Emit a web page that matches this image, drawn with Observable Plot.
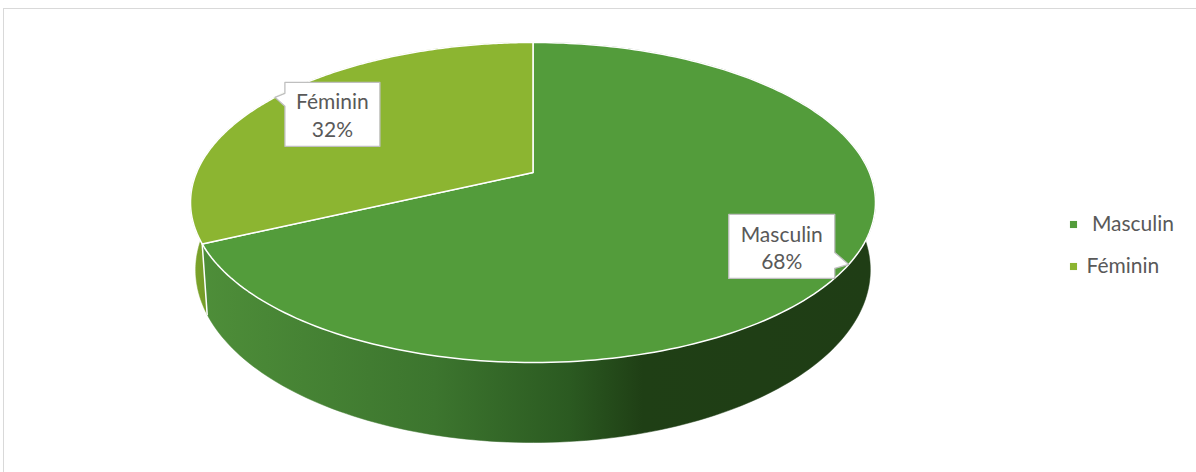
<!DOCTYPE html>
<html><head><meta charset="utf-8">
<script src="https://cdn.jsdelivr.net/npm/d3@7"></script>
<script src="https://cdn.jsdelivr.net/npm/@observablehq/plot@0.6"></script>
<style>
body{margin:0;background:#fff;overflow:hidden}
#wrap{position:relative;width:1196px;height:472px;overflow:hidden}
#frame{position:absolute;left:3px;top:8px;width:1210px;height:490px;border:1px solid #d9d9d9;box-sizing:border-box}
#chart{position:absolute;left:0;top:0}
</style></head><body><div id="wrap"><div id="frame"></div><div id="chart"></div></div>
<script>
// ---- data ----
const categories = ["Masculin", "Féminin"];
const values = [68, 32];
const percentLabels = ["68%", "32%"];
const topColors = ["#539c3b", "#8cb531"];
const sideColors = [["#4e8e39", "#3c752e", "#2b5a21", "#1f3f15", "#1f3d15"], ["#80a82d", "#6f9626"]];

// ---- pie geometry (perspective 3D pie) ----
const CX = 532.5, CY = 172, RX = 336.4, RY = 154.4, K = -0.1875, DEPTH = 65, SHRINK = 0.985;
function proj(theta, r, h) {
  const u = r * Math.sin(theta), w = -r * Math.cos(theta);
  const den = 1 + K * w;
  const s = h ? SHRINK : 1;
  return {x: CX + s * RX * u / den, y: CY + RY * w / den + (h ? DEPTH * r / den : 0)};
}
const total = d3.sum(values);
let acc = 0;
const slices = categories.map((name, i) => {
  const a0 = acc / total * 2 * Math.PI;
  acc += values[i];
  const a1 = acc / total * 2 * Math.PI;
  return {name, i, a0, a1, mid: (a0 + a1) / 2};
});
function arc(s, h, n) {
  const pts = [];
  for (let j = 0; j <= n; j++) {
    const t = s.a0 + (s.a1 - s.a0) * j / n;
    pts.push(proj(t, 1, h));
  }
  return pts;
}
const topPolys = slices.map(s => [proj(0, 0, 0), ...arc(s, 0, 200)]);
const sidePolys = slices.map(s => [...arc(s, 0, 200), ...arc(s, 1, 200).reverse()]);
const boundaryLines = slices.map(s => [proj(s.a1, 1, 0), proj(s.a1, 1, 1)]).filter((d, i) => i === 0);

// callouts
const callouts = slices.map(s => {
  const tip = proj(s.mid, 1, 0);
  const w = 11 * s.name.length + 18, h = 64;
  let L, R, T, B, poly;
  if (tip.x > CX) {
    R = tip.x - 14; L = R - w; B = tip.y + 14; T = B - h;
    poly = [{x: L, y: T}, {x: R, y: T}, {x: R, y: tip.y - 12}, tip, {x: R, y: tip.y + 4}, {x: R, y: B}, {x: L, y: B}];
  } else {
    L = tip.x + 10; R = L + w; T = tip.y - 15; B = T + h;
    poly = [{x: L, y: T}, {x: R, y: T}, {x: R, y: B}, {x: L, y: B}, {x: L, y: tip.y + 9}, tip, {x: L, y: tip.y - 4}];
  }
  return {poly, cx: (L + R) / 2, cy: (T + B) / 2, text: s.name + "\n" + percentLabels[s.i]};
});

// legend
const legend = categories.map((name, i) => ({name: i === 0 ? "\u00a0" + name : name, color: topColors[i], x: 1073, y: 224 + i * 42}));

const FONT = "Lato, 'Open Sans', sans-serif";

function defs() {
  const g = d3.create("svg:defs");
  const gm = g.append("linearGradient").attr("id", "gm").attr("gradientUnits", "userSpaceOnUse")
    .attr("x1", 200).attr("x2", 870).attr("y1", 0).attr("y2", 0);
  const stops = [0, 0.35, 0.55, 0.66, 1];
  sideColors[0].forEach((c, k) => gm.append("stop").attr("offset", stops[k]).attr("stop-color", c));
  const gf = g.append("linearGradient").attr("id", "gf").attr("gradientUnits", "userSpaceOnUse")
    .attr("x1", 188).attr("x2", 212).attr("y1", 0).attr("y2", 0);
  sideColors[1].forEach((c, k) => gf.append("stop").attr("offset", k).attr("stop-color", c));
  return g.node();
}

const marks = [defs];
// sides (Féminin first, then Masculin)
marks.push(Plot.line(sidePolys[1], {x: "x", y: "y", fill: "url(#gf)", stroke: "url(#gf)", strokeWidth: 0.5, curve: "linear-closed"}));
marks.push(Plot.line(sidePolys[0], {x: "x", y: "y", fill: "url(#gm)", stroke: "url(#gm)", strokeWidth: 0.5, curve: "linear-closed"}));
boundaryLines.forEach(l => marks.push(Plot.line(l, {x: "x", y: "y", stroke: "white", strokeWidth: 1.5})));
// top faces
topPolys.forEach((p, i) => marks.push(Plot.line(p, {x: "x", y: "y", fill: topColors[i], stroke: "white", strokeWidth: 1.5, strokeLinejoin: "round", curve: "linear-closed"})));
// callouts
callouts.forEach(c => marks.push(Plot.line(c.poly, {x: "x", y: "y", fill: "white", stroke: "#bfbfbf", strokeWidth: 1.3, curve: "linear-closed"})));
marks.push(Plot.text(callouts, {x: "cx", y: "cy", text: "text", fill: "#595959", fontSize: 21, lineHeight: 1.3, fontFamily: FONT, textAnchor: "middle"}));
// legend
marks.push(Plot.dot(legend, {x: "x", y: "y", symbol: "square", r: 4, fill: "color", stroke: null}));
marks.push(Plot.text(legend, {x: "x", y: "y", dx: 13, text: "name", textAnchor: "start", fill: "#595959", fontSize: 21, fontFamily: FONT}));

const chart = Plot.plot({
  width: 1196, height: 472, margin: 0,
  x: {domain: [0, 1196], range: [0, 1196], axis: null},
  y: {domain: [0, 472], range: [0, 472], axis: null},
  color: {type: "identity"},
  style: {background: "transparent"},
  marks
});
document.getElementById("chart").appendChild(chart);
</script></body></html>
